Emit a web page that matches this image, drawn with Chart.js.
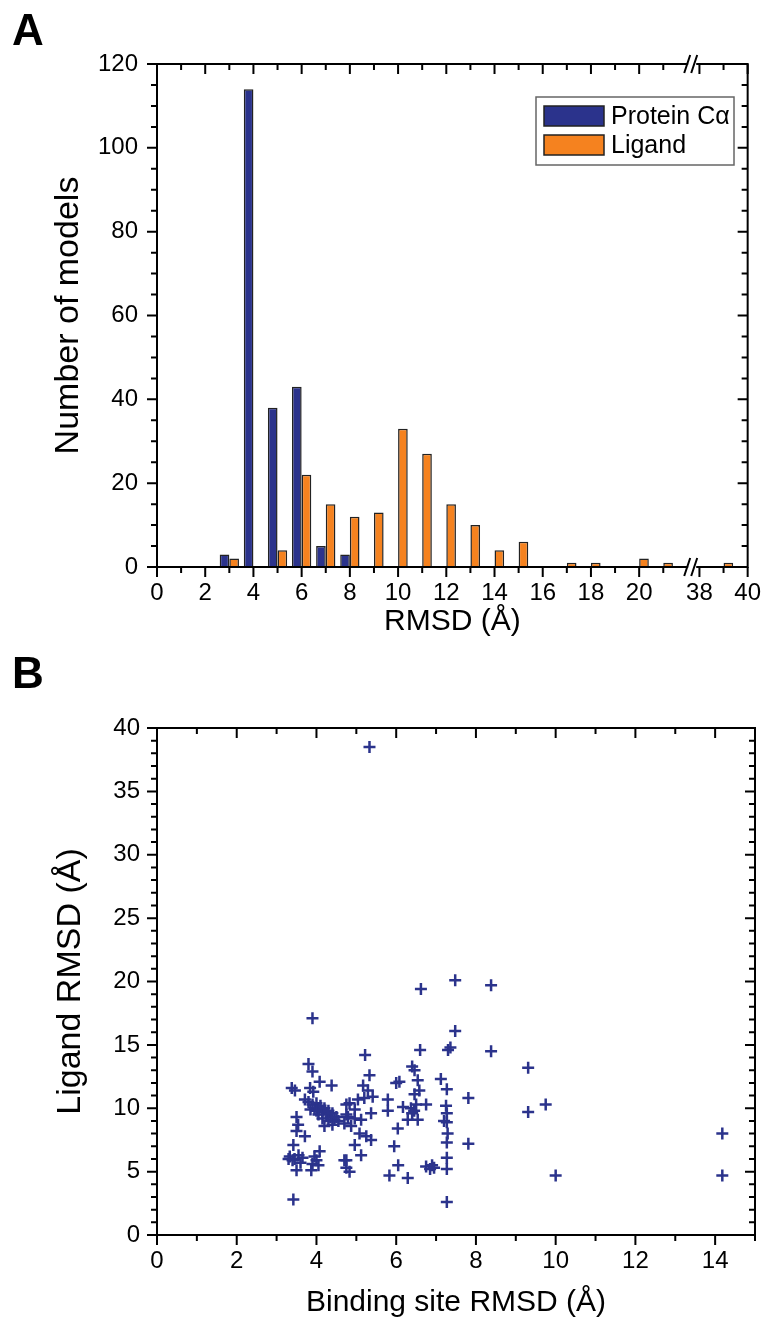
<!doctype html>
<html>
<head>
<meta charset="utf-8">
<title>RMSD of docked models</title>
<script src="https://cdn.jsdelivr.net/npm/chart.js@4.4.1/dist/chart.umd.min.js"></script>
<style>
    body { margin: 0; background: #fff; }
    #wrapA { position: absolute; left: 0; top: 0; width: 773px; height: 640px; }
    #wrapB { position: absolute; left: 0; top: 640px; width: 773px; height: 687px; }
</style>
</head>
<body>
<div id="wrapA"><canvas id="chartA"></canvas></div>
<div id="wrapB"><canvas id="chartB"></canvas></div>
<script>
// panel A: histogram of RMSD (bins in Å, last ligand bin sits after the axis break)
var proteinBins = [3, 4, 5, 6, 7, 8];
var proteinCounts = [3, 114, 38, 43, 5, 3];
var ligandBins = [3, 5, 6, 7, 8, 9, 10, 11, 12, 13, 14, 15, 17, 18, 20, 21, 39];
var ligandCounts = [2, 4, 22, 15, 12, 13, 33, 27, 15, 10, 4, 6, 1, 1, 2, 1, 1];
var histXLabels = [0, 2, 4, 6, 8, 10, 12, 14, 16, 18, 20, 38, 40];
var histYLabels = [0, 20, 40, 60, 80, 100, 120];

// panel B: binding site RMSD vs ligand RMSD
var siteRmsd = [5.33, 7.48, 8.38, 6.62, 3.90, 7.48, 7.30, 7.36, 8.38, 6.60,
    5.22, 3.80, 9.31, 6.40, 6.46, 3.90, 5.33, 6.54, 7.12, 4.08,
    6.00, 6.08, 5.17, 4.38, 3.38, 3.46, 3.84, 3.92, 7.27, 6.58,
    5.29, 6.46, 5.41, 7.81, 5.20, 5.04, 5.79, 3.71, 4.83, 4.75,
    6.75, 7.25, 9.75, 6.17, 6.37, 6.45, 6.50, 6.40, 4.96, 5.79,
    9.31, 7.27, 5.37, 4.79, 4.96, 5.12, 6.29, 6.54, 7.20, 7.27,
    4.87, 6.04, 5.08, 7.29, 5.25, 5.37, 7.27, 7.81, 4.96, 5.95,
    5.12, 7.27, 4.75, 6.05, 4.83, 5.83, 6.29, 7.27, 6.75, 6.85,
    6.90, 6.95, 10.0, 14.18, 14.18, 7.27, 3.42, 3.80, 3.90, 3.95,
    4.00, 4.05, 4.10, 4.15, 4.20, 4.25, 4.30, 4.35, 4.40, 4.45,
    4.50, 4.15, 4.30, 4.40, 4.05, 3.85, 4.20, 4.55, 4.00, 3.50,
    3.54, 3.50, 3.71, 3.42, 4.08, 3.33, 3.45, 3.55, 3.65, 3.40,
    3.95, 3.90, 4.00, 3.50, 3.87, 4.70, 4.75, 4.75, 4.70, 3.30,
    3.60, 4.05];
var ligandRmsd = [38.5, 20.1, 19.7, 19.4, 17.1, 16.1, 14.6, 14.8, 14.5, 14.6,
    14.2, 13.5, 13.2, 13.3, 13.0, 12.9, 12.6, 12.2, 12.3, 12.1,
    12.0, 12.1, 11.8, 11.8, 11.6, 11.4, 11.6, 11.3, 11.5, 11.4,
    11.4, 11.1, 10.9, 10.8, 10.8, 10.7, 10.7, 10.7, 10.4, 10.3,
    10.3, 10.2, 10.3, 10.1, 10.0, 9.8, 10.3, 9.6, 9.9, 9.8,
    9.7, 9.6, 9.6, 9.3, 9.2, 9.1, 9.1, 9.1, 9.0, 8.9,
    8.6, 8.4, 8.0, 8.0, 7.8, 7.5, 7.3, 7.2, 7.1, 7.0,
    6.3, 6.1, 5.9, 5.5, 5.0, 4.7, 4.5, 5.2, 5.4, 5.2,
    5.5, 5.3, 4.7, 8.0, 4.7, 2.6, 2.8, 10.5, 10.3, 10.0,
    10.4, 9.9, 10.2, 9.7, 10.0, 9.5, 9.8, 9.3, 9.6, 9.1,
    9.3, 9.2, 9.0, 8.7, 9.5, 9.9, 8.6, 9.0, 9.8, 9.3,
    8.7, 8.2, 7.8, 7.1, 6.6, 6.2, 6.0, 6.3, 6.1, 5.9,
    6.2, 5.6, 5.9, 5.1, 5.1, 5.9, 5.3, 9.5, 8.8, 6.0,
    5.7, 5.5];
var scatterXLabels = [0, 2, 4, 6, 8, 10, 12, 14];
var scatterYLabels = [0, 5, 10, 15, 20, 25, 30, 35, 40];

var BLUE = '#2b338c';
var ORANGE = '#f5821f';
var FONT = '"Liberation Sans", Arial, sans-serif';
var BREAK_SHIFT = 15.5;   // 38..40 drawn right after the break
function brk(v) { return v > 30 ? v - BREAK_SHIFT : v; }

// frame with ticks on all four sides, outward bottom/left, inward top/right
var axisFrame = {
    id: 'axisFrame',
    afterDraw: function (chart, args, o) {
        var ctx = chart.ctx, a = chart.chartArea;
        var xs = chart.scales.x, ys = chart.scales.y;
        ctx.save();
        ctx.strokeStyle = '#000';
        ctx.lineWidth = 2;
        ctx.strokeRect(a.left, a.top, a.right - a.left, a.bottom - a.top);
        function xt(v, len) {
            var px = xs.getPixelForValue(v);
            ctx.beginPath();
            ctx.moveTo(px, a.bottom); ctx.lineTo(px, a.bottom + len);
            ctx.moveTo(px, a.top); ctx.lineTo(px, a.top + len);
            ctx.stroke();
        }
        function yt(v, len) {
            var py = ys.getPixelForValue(v);
            ctx.beginPath();
            ctx.moveTo(a.left, py); ctx.lineTo(a.left - len, py);
            ctx.moveTo(a.right, py); ctx.lineTo(a.right - len, py);
            ctx.stroke();
        }
        o.xMajor.forEach(function (v) { xt(v, 10); });
        o.xMinor.forEach(function (v) { xt(v, 6); });
        o.yMajor.forEach(function (v) { yt(v, 10); });
        o.yMinor.forEach(function (v) { yt(v, 6); });

        if (o.breakAt) {
            var bx = xs.getPixelForValue(o.breakAt);
            [a.top, a.bottom].forEach(function (y) {
                ctx.fillStyle = '#fff';
                ctx.fillRect(bx - 4, y - 3, 8, 6);
                ctx.beginPath();
                ctx.moveTo(bx - 8, y + 9); ctx.lineTo(bx - 2, y - 9);
                ctx.moveTo(bx - 1, y + 9); ctx.lineTo(bx + 5, y - 9);
                ctx.stroke();
            });
        }

        if (o.legend) {
            ctx.lineWidth = 1.5;
            ctx.strokeStyle = '#666';
            ctx.strokeRect(536, 97, 198, 68);
            ctx.font = '25px ' + FONT;
            ctx.textBaseline = 'middle';
            chart.data.datasets.forEach(function (ds, i) {
                var y = 106 + i * 29;
                ctx.fillStyle = ds.backgroundColor;
                ctx.fillRect(544, y, 60, 20);
                ctx.strokeStyle = '#222';
                ctx.strokeRect(544, y, 60, 20);
                ctx.fillStyle = '#000';
                ctx.fillText(ds.label, 611, y + 11);
            });
        }

        ctx.fillStyle = '#000';
        ctx.font = 'bold 44px ' + FONT;
        ctx.textBaseline = 'alphabetic';
        ctx.fillText(o.letter, 12, o.letterY);
        ctx.restore();
    }
};

function steps(from, to, step, skip) {
    var out = [];
    for (var v = from; v <= to + 1e-9; v += step) {
        if (skip.indexOf(v) < 0) out.push(v);
    }
    return out;
}

var tickFont = { family: FONT, size: 24 };
var titleFont = { family: FONT, size: 30 };
var yTitleFont = { family: FONT, size: 34 };

window.onload = function () {
    var histMinorX = steps(1, 21, 2, []).concat([brk(39)]);

    new Chart(document.getElementById('chartA'), {
        type: 'bar',
        data: {
            datasets: [{
                label: 'Protein C\u03b1',
                data: proteinBins.map(function (b, i) { return { x: brk(b), y: proteinCounts[i] }; }),
                backgroundColor: BLUE,
                borderColor: '#222',
                borderWidth: 1.5
            }, {
                label: 'Ligand',
                data: ligandBins.map(function (b, i) { return { x: brk(b), y: ligandCounts[i] }; }),
                backgroundColor: ORANGE,
                borderColor: '#222',
                borderWidth: 1.5
            }]
        },
        options: {
            responsive: true,
            maintainAspectRatio: false,
            animation: false,
            layout: { padding: { top: 64, right: 18, left: 0, bottom: 0 } },
            datasets: { bar: { categoryPercentage: 0.8, barPercentage: 1.0 } },
            plugins: {
                legend: { display: false },
                tooltip: { enabled: false },
                axisFrame: {
                    xMajor: histXLabels.map(brk),
                    xMinor: histMinorX,
                    yMajor: histYLabels,
                    yMinor: steps(0, 120, 5, histYLabels),
                    breakAt: 22.2,
                    legend: true,
                    letter: 'A',
                    letterY: 45
                }
            },
            scales: {
                x: {
                    type: 'linear',
                    offset: false,
                    min: 0,
                    max: brk(40),
                    grid: { display: false, drawTicks: false },
                    border: { display: false },
                    afterBuildTicks: function (s) {
                        s.ticks = histXLabels.map(function (v) { return { value: brk(v) }; });
                    },
                    ticks: {
                        autoSkip: false, maxRotation: 0, padding: 12,
                        font: tickFont, color: '#000',
                        callback: function (v) { return String(v > 22.3 ? Math.round(v + BREAK_SHIFT) : v); }
                    },
                    title: { display: true, text: 'RMSD (\u00c5)', font: titleFont, color: '#000', padding: 0 },
                    afterFit: function (s) { s.height = 73; }
                },
                y: {
                    min: 0,
                    max: 120,
                    grid: { display: false, drawTicks: false },
                    border: { display: false },
                    afterBuildTicks: function (s) {
                        s.ticks = histYLabels.map(function (v) { return { value: v }; });
                    },
                    ticks: { padding: 19, font: tickFont, color: '#000' },
                    title: { display: true, text: 'Number of models', font: yTitleFont, color: '#000', padding: { top: 48, bottom: 0 } },
                    afterFit: function (s) { s.width = 157; }
                }
            }
        },
        plugins: [axisFrame]
    });

    new Chart(document.getElementById('chartB'), {
        type: 'scatter',
        data: {
            datasets: [{
                label: 'Models',
                data: siteRmsd.map(function (x, i) { return { x: x, y: ligandRmsd[i] }; }),
                pointStyle: 'cross',
                pointRadius: 6,
                borderWidth: 2.5,
                borderColor: BLUE,
                backgroundColor: BLUE
            }]
        },
        options: {
            responsive: true,
            maintainAspectRatio: false,
            animation: false,
            layout: { padding: { top: 88, right: 18, left: 0, bottom: 0 } },
            plugins: {
                legend: { display: false },
                tooltip: { enabled: false },
                axisFrame: {
                    xMajor: scatterXLabels,
                    xMinor: steps(1, 15, 2, []),
                    yMajor: scatterYLabels,
                    yMinor: steps(0, 40, 1, scatterYLabels),
                    breakAt: null,
                    legend: false,
                    letter: 'B',
                    letterY: 48
                }
            },
            scales: {
                x: {
                    type: 'linear',
                    min: 0,
                    max: 15,
                    grid: { display: false, drawTicks: false },
                    border: { display: false },
                    afterBuildTicks: function (s) {
                        s.ticks = scatterXLabels.map(function (v) { return { value: v }; });
                    },
                    ticks: { autoSkip: false, maxRotation: 0, padding: 12, font: tickFont, color: '#000' },
                    title: { display: true, text: 'Binding site RMSD (\u00c5)', font: titleFont, color: '#000', padding: { top: 0, bottom: 6 } },
                    afterFit: function (s) { s.height = 92; }
                },
                y: {
                    min: 0,
                    max: 40,
                    grid: { display: false, drawTicks: false },
                    border: { display: false },
                    afterBuildTicks: function (s) {
                        s.ticks = scatterYLabels.map(function (v) { return { value: v }; });
                    },
                    ticks: { padding: 17, font: tickFont, color: '#000' },
                    title: { display: true, text: 'Ligand RMSD (\u00c5)', font: yTitleFont, color: '#000', padding: { top: 50, bottom: 0 } },
                    afterFit: function (s) { s.width = 157; }
                }
            }
        },
        plugins: [axisFrame]
    });
};
</script>
</body>
</html>
